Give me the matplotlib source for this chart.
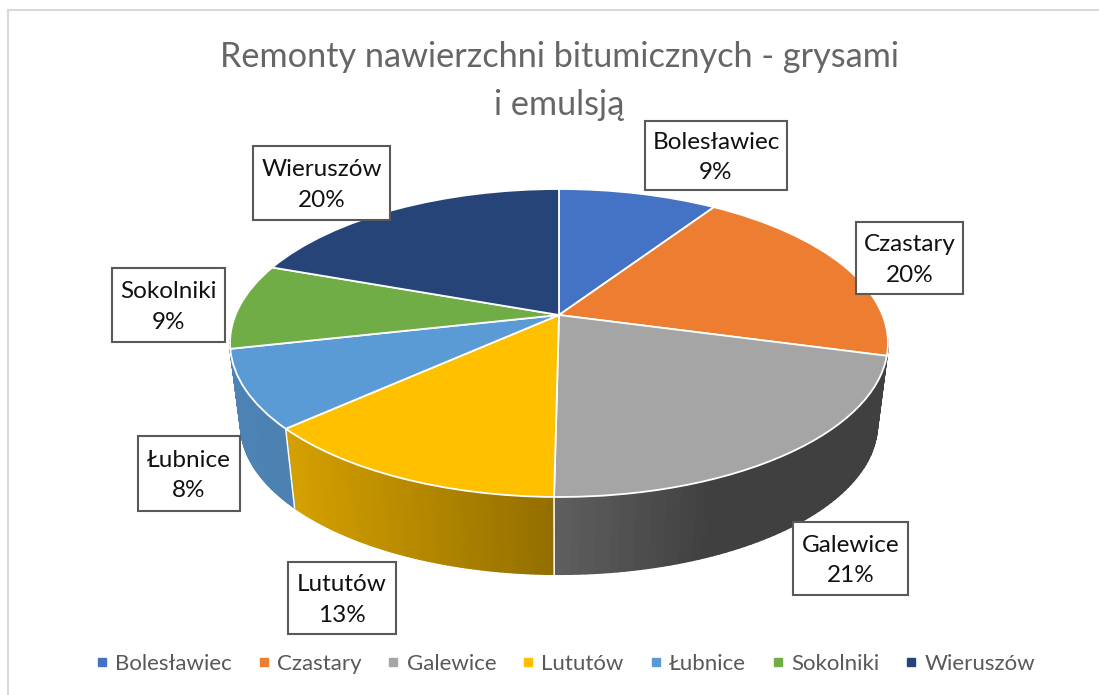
import numpy as np
import matplotlib
matplotlib.use("Agg")
import matplotlib.pyplot as plt
from matplotlib.collections import PolyCollection
from matplotlib.lines import Line2D
from matplotlib.patches import Rectangle
from matplotlib.transforms import Transform

# ---- data -------------------------------------------------------------
categories = ["Bolesławiec", "Czastary", "Galewice", "Lututów", "Łubnice", "Sokolniki", "Wieruszów"]
shares = [9.3, 19.9, 21.0, 13.1, 8.2, 9.0, 19.5]
slice_colors = ["#4472C4", "#ED7D31", "#A5A5A5", "#FFC000", "#5B9BD5", "#70AD47", "#264478"]
title_lines = ["Remonty nawierzchni bitumicznych - grysami", "i emulsją"]
front_slices = ["Galewice", "Lututów", "Łubnice"]

# ---- layout (pixels) --------------------------------------------------
W, H = 1099, 695
label_boxes = {  # left, top, right, bottom
    "Bolesławiec": (645, 121, 787, 190),
    "Czastary": (856, 222, 963, 294),
    "Galewice": (793, 522, 908, 595),
    "Lututów": (288, 562, 396, 634),
    "Łubnice": (138, 436, 240, 511),
    "Sokolniki": (112, 268, 225, 342),
    "Wieruszów": (253, 146, 390, 220),
}
TILT = 0.1818
TOP_DISC = dict(cx=559.0, cy=315.0, bx=323.5, ay=148.9)
BOTTOM_DISC = dict(cx=559.0, cy=397.0, bx=313.0, ay=145.0)
WALL_RANGE = (0.275, 0.725)

plt.rcParams["font.family"] = ["Lato", "DejaVu Sans"]


def project(x, y, d):
    w = 1 + TILT * np.asarray(y)
    return d["cx"] + d["bx"] * np.asarray(x) / w, d["cy"] - d["ay"] * np.asarray(y) / w


class DiscProjection(Transform):
    input_dims = output_dims = 2

    def __init__(self, disc):
        super().__init__()
        self.disc = disc

    def transform_non_affine(self, values):
        v = np.asarray(values)
        px, py = project(v[:, 0], v[:, 1], self.disc)
        return np.column_stack([px, py])


def rim(frac, disc):
    t = 2 * np.pi * np.asarray(frac)
    return project(np.sin(t), np.cos(t), disc)


def shade(px):
    u = (px - TOP_DISC["cx"]) / TOP_DISC["bx"]
    return np.interp(u, [-1.0, -0.8, 0.0, 0.45, 1.0], [0.85, 0.83, 0.57, 0.39, 0.39])


fig = plt.figure(figsize=(W / 100, H / 100), dpi=100, facecolor="white")
ax = fig.add_axes([0, 0, 1, 1])

wedges, _ = ax.pie(
    shares, colors=slice_colors, startangle=90, counterclock=False, normalize=True,
    wedgeprops=dict(edgecolor="white", linewidth=1.3, zorder=3),
)
disc_tf = DiscProjection(TOP_DISC) + ax.transData
for w in wedges:
    w.set_transform(disc_tf)

ax.set_aspect("auto")
ax.set_xlim(0, W)
ax.set_ylim(H, 0)
ax.axis("off")

# side wall, built from the same slice boundaries
edges = np.concatenate([[0], np.cumsum(shares)]) / np.sum(shares)
for name in front_slices:
    i = categories.index(name)
    a = WALL_RANGE[0] if name == front_slices[0] else edges[i]
    b = WALL_RANGE[1] if name == front_slices[-1] else edges[i + 1]
    f = np.linspace(a, b, 70)
    tx, ty = rim(f, TOP_DISC)
    bx, by = rim(f, BOTTOM_DISC)
    quads = [[(tx[j], ty[j]), (tx[j + 1], ty[j + 1]), (bx[j + 1], by[j + 1]), (bx[j], by[j])]
             for j in range(len(f) - 1)]
    base = np.array(matplotlib.colors.to_rgb(slice_colors[i]))
    cols = [tuple(base * shade(0.5 * (bx[j] + bx[j + 1]))) for j in range(len(f) - 1)]
    ax.add_collection(PolyCollection(quads, facecolors=cols, edgecolors=cols, linewidths=1.2, zorder=1))
    if name != front_slices[-1]:
        ax.plot([tx[-1], bx[-1]], [ty[-1], by[-1]], color="white", lw=1.1, zorder=2)

# chart frame (only the top and left sides show)
ax.plot([8, W], [10, 10], color="#D9D9D9", lw=1.5, zorder=0.5)
ax.plot([8, 8], [10, H], color="#D9D9D9", lw=1.5, zorder=0.5)

# title
ax.text(559, 81, "\n".join(title_lines), ha="center", va="center", fontsize=24.7,
        color="#666666", linespacing=1.6, zorder=5)

# data labels
for name, share in zip(categories, shares):
    l, t, r, b = label_boxes[name]
    ax.add_patch(Rectangle((l, t), r - l, b - t, facecolor="white", edgecolor="#595959", lw=1.5, zorder=6))
    ax.text((l + r) / 2, (t + b) / 2 + 2, f"{name}\n{share:.0f}%", ha="center", va="center",
            fontsize=17.5, color="#111111", linespacing=1.58, zorder=7)

# legend
handles = [Line2D([], [], ls="", marker="s", ms=6, color=c) for c in slice_colors]
ax.legend(handles, categories, loc="center", bbox_to_anchor=(565 / W, 1 - 664 / H), ncol=7, frameon=False,
          fontsize=16, labelcolor="#595959", handlelength=0.6, handletextpad=0.3,
          columnspacing=1.13, borderpad=0, borderaxespad=0)

fig.savefig("out.png", dpi=100)
